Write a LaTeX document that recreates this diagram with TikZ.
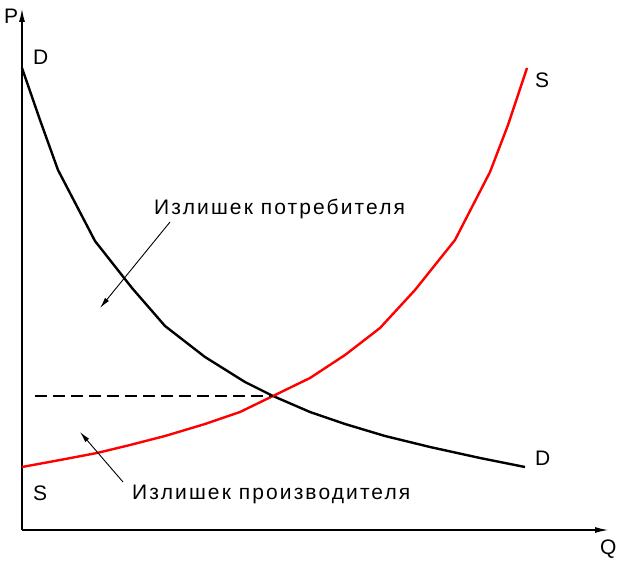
\documentclass[tikz,border=0pt]{standalone}
\usepackage{fontspec}
\setmainfont{Liberation Sans}
\newfontfamily\wideface[LetterSpace=10]{Liberation Sans}
\usetikzlibrary{arrows.meta}

\begin{document}
\begin{tikzpicture}[
      x=1pt, y=-1pt,
      every node/.style={font=\fontsize{21}{24}\selectfont, inner sep=0pt, anchor=base west},
      surplus/.style={font=\wideface\fontsize{21}{24}\selectfont},
      axis/.style={line width=1.8pt, -{Latex[length=14pt, width=6pt]}},
      curve/.style={line width=2.4pt, line join=round},
      pointer/.style={line width=0.9pt, -{Latex[length=11pt, width=5pt]}},
    ]
    \useasboundingbox (0,0) rectangle (624,567);

    % Axes
    \coordinate (o) at (22,530);
    \coordinate (ptop) at (22,8);
    \coordinate (qend) at (609,530);
    \draw[axis] (o) -- (ptop);
    \draw[axis] (o) -- (qend);
    \node (plab) at (4,24) {P};
    \node (qlab) at (600,554) {Q};

    % Demand
    \draw[curve] (22,68) -- (40,120) -- (58,170) -- (95,241) -- (132,288) -- (165,326)
      -- (205,357) -- (245,382) -- (273,396) -- (310,412) -- (345,424) -- (385,436)
      -- (430,447) -- (480,458) -- (525,467);
    \node (d1) at (33,65) {D};
    \node (d2) at (535,465) {D};

    % Supply
    \draw[curve, red] (22,467) -- (60,460) -- (97,453) -- (130,445) -- (165,436) -- (205,424)
      -- (240,412) -- (273,396) -- (310,378) -- (345,355) -- (380,328) -- (415,290)
      -- (455,240) -- (490,172) -- (508,125) -- (527,68);
    \node (s1) at (33,500) {S};
    \node (s2) at (535,88) {S};

    % Equilibrium price
    \coordinate (eq) at (273,396);
    \coordinate (peq) at (35,396);
    \draw[line width=1.8pt, dash pattern=on 12pt off 6pt] (peq) -- (eq);

    % Surplus labels
    \node[surplus] (cons) at (154,214) {Излишек потребителя};
    \node[surplus] (prod) at (132,499) {Излишек производителя};
    \coordinate (cfrom) at (170,222);
    \coordinate (cto) at (100,308);
    \coordinate (pfrom) at (123,482);
    \coordinate (pto) at (80,432);
    \draw[pointer] (cfrom) -- (cto);
    \draw[pointer] (pfrom) -- (pto);
  \end{tikzpicture}
\end{document}
